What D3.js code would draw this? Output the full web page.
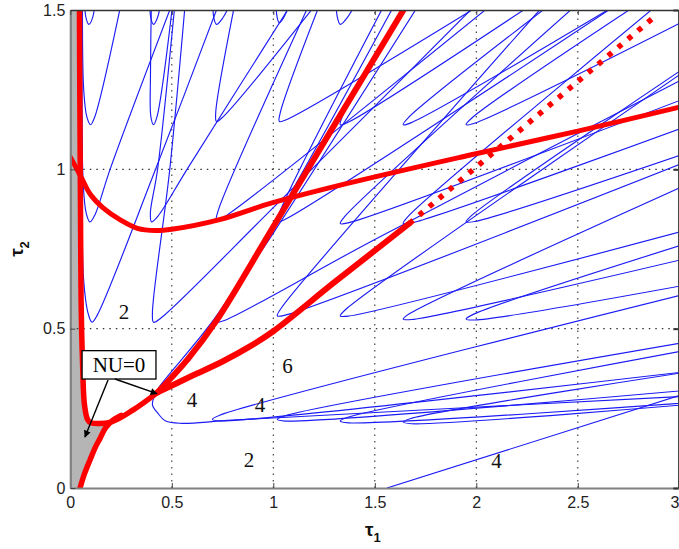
<!DOCTYPE html>
<html><head><meta charset="utf-8">
<script src="https://cdn.jsdelivr.net/npm/d3@7"></script>
<style>body{margin:0;background:#fff}svg{display:block}</style>
</head><body><svg id="c" width="679" height="549"></svg>
<script>
// ---------- data ----------
const xTicks=[0,0.5,1,1.5,2,2.5,3];
const xTickLabels=["0","0.5","1","1.5","2","2.5","3"];
const yTicks=[0,0.5,1,1.5];
const yTickLabels=["0","0.5","1","1.5"];

const grayRegion=[[0,0],[0,1.5],[0.033,1.5],[0.036,1.2],[0.04,0.9],[0.045,0.6],[0.052,0.4],[0.062,0.26],[0.08,0.215],[0.1,0.205],[0.19,0.205],[0.146,0.155],[0.125,0.13],[0.097,0.088],[0.07,0.045],[0.048,0]];
const redLeft=[[0.045,1.52],[0.047,1.2],[0.05,0.9],[0.053,0.6],[0.06,0.4],[0.07,0.26],[0.085,0.215],[0.1,0.205],[0.2,0.207],[0.31,0.245],[0.43,0.30]];
const redBottom=[[0.048,0],[0.07,0.045],[0.097,0.088],[0.125,0.13],[0.146,0.155],[0.175,0.19],[0.21,0.213],[0.25,0.228]];
const redUpper=[[-0.01,1.05],[0.05,0.98],[0.10,0.92],[0.16,0.88],[0.25,0.84],[0.33,0.815],[0.42,0.808],[0.5,0.812],[0.74,0.843],[0.985,0.893],[1.36,0.955],[1.97,1.045],[2.5,1.12],[3.02,1.198]];
const redSteep=[[0.43,0.30],[0.58,0.405],[0.72,0.525],[1.0,0.82],[1.33,1.17],[1.66,1.52]];
const redLower=[[0.43,0.30],[0.6,0.352],[0.75,0.397],[0.887,0.445],[1.0,0.492],[1.3,0.645],[1.67,0.83]];
const redDotted=[[1.67,0.83],[2.88,1.48]];

const loopTips=[
 [0.107,0.52],[0.097,0.835],[0.100,1.14],[0.092,1.455],
 [0.41,0.52],[0.40,0.835],[0.41,1.14],[0.41,1.455],
 [0.72,0.52],[0.72,0.84],[0.72,1.15],[0.72,1.455],
 [1.02,0.54],[1.02,0.835],[1.03,1.15],[1.03,1.46],
 [1.33,0.54],[1.33,0.83],[1.33,1.14],[1.33,1.455],
 [1.64,0.53],[1.64,0.83],[1.64,1.14],
 [1.95,0.53],[1.95,0.835],[1.95,1.14],
 [0.405,0.26],[0.70,0.215],[1.02,0.215],[1.33,0.21],[1.64,0.207]
];
const loopUpper=[
 [[0.065,0.66],[0.058,1.0],[0.055,1.55]],[[0.064,0.95],[0.058,1.55]],[[0.066,1.25],[0.06,1.55]],[[0.072,1.55]],
 [[0.49,1.0],[0.57,1.55]],[[0.43,1.0],[0.52,1.55]],[[0.395,1.3],[0.40,1.55]],[[0.395,1.55]],
 [[1.0,0.8],[1.75,1.55]],[[1.2,1.55]],[[0.82,1.55]],[[0.705,1.55]],
 [[2.34,1.52]],[[1.55,1.52]],[[1.23,1.52]],[[1.02,1.55]],
 [[3.1,1.34]],[[2.5,1.52]],[[1.65,1.52]],[[1.31,1.55]],
 [[3.1,0.97]],[[2.9,1.52]],[[2.37,1.52]],
 [[3.1,0.78]],[[3.1,1.35]],[[2.8,1.52]],
 [[0.43,0.31],[0.72,0.54],[1.0,0.83],[1.6,1.52]],[[3.1,0.62]],[[3.1,0.465]],[[3.1,0.44]],[[3.1,0.37]]
];
const loopLower=[
 [[0.42,1.0],[0.75,1.55]],[[0.196,1.0],[0.52,1.55]],[[0.26,1.55]],[[0.125,1.55]],
 [[1.0,0.88],[2.05,1.55]],[[0.575,1.0],[1.12,1.55]],[[0.51,1.55]],[[0.45,1.55]],
 [[1.5,0.78],[3.1,1.31]],[[2.14,1.55]],[[1.25,1.55]],[[0.81,1.55]],
 [[3.1,1.04]],[[2.7,1.52]],[[2.03,1.52]],[[1.09,1.55]],
 [[3.1,0.82]],[[3.1,1.24]],[[2.28,1.52]],[[1.43,1.55]],
 [[3.1,0.73]],[[3.1,1.15]],[[2.70,1.52]],
 [[3.1,0.645]],[[3.1,1.065]],[[3.1,1.49]],
 [[0.47,0.21],[0.55,0.203],[0.8,0.213],[3.1,0.29]],[[3.1,0.37]],[[3.1,0.31]],[[3.1,0.27]],[[3.1,0.265]]
];
const straightBlue=[[[1.56,0],[3.05,0.30]]];

const regionLabels=["2","4","6","4","2","4"];
const regionLabelPos=[[0.265,0.552],[0.60,0.276],[1.07,0.383],[0.935,0.261],[0.88,0.088],[2.10,0.085]];
const noteText="NU=0";
const noteBox=[[0.058,0.431],[0.422,0.342]];
const noteArrows=[[[0.186,0.339],[0.072,0.16]],[[0.22,0.342],[0.427,0.296]]];

// ---------- drawing ----------
const x=d3.scaleLinear().domain([0,3]).range([70.3,679.3]);
const y=d3.scaleLinear().domain([0,1.5]).range([488,10]);
const svg=d3.select("#c");
const defs=svg.append("defs");
defs.append("clipPath").attr("id","clip").append("rect")
  .attr("x",70).attr("y",10).attr("width",609.5).attr("height",478);
defs.append("marker").attr("id","ah").attr("viewBox","0 0 10 10").attr("refX",9).attr("refY",5)
  .attr("markerWidth",10).attr("markerHeight",7).attr("orient","auto").attr("markerUnits","userSpaceOnUse")
  .append("path").attr("d","M0,0L10,5L0,10Z").attr("fill","#000");

const line=d3.line().x(d=>x(d[0])).y(d=>y(d[1]));
const sline=d3.line().x(d=>x(d[0])).y(d=>y(d[1])).curve(d3.curveCatmullRom.alpha(0.5));
const pline=d3.line().curve(d3.curveCatmullRom.alpha(0.5));

const plot=svg.append("g").attr("clip-path","url(#clip)");

// gray region
plot.append("path").attr("d",sline(grayRegion)+"Z").attr("fill","#b5b5b5");

// grid
const grid=plot.append("g").attr("stroke","#333").attr("stroke-width",1.1).attr("stroke-dasharray","1.5,5");
xTicks.filter(v=>v>0&&v<3).forEach(v=>grid.append("line").attr("x1",x(v)).attr("x2",x(v)).attr("y1",y(0)).attr("y2",y(1.5)));
yTicks.filter(v=>v>0&&v<1.5).forEach(v=>grid.append("line").attr("x1",x(0)).attr("x2",x(3)).attr("y1",y(v)).attr("y2",y(v)));

// blue loops
function loopPath(tip,up,low){
  const P=[x(tip[0]),y(tip[1])];
  const U=up.map(p=>[x(p[0]),y(p[1])]);
  const L=low.map(p=>[x(p[0]),y(p[1])]);
  const unit=a=>{const dx=a[0]-P[0],dy=a[1]-P[1],n=Math.hypot(dx,dy);return [dx/n,dy/n];};
  const u=unit(U[0]),l=unit(L[0]);
  let b=[u[0]+l[0],u[1]+l[1]];const bn=Math.hypot(b[0],b[1]);b=[b[0]/bn,b[1]/bn];
  const n=[-b[1],b[0]];
  const s=Math.sign((u[0]-l[0])*n[0]+(u[1]-l[1])*n[1])||1;
  const r=8,w=2.2;
  const pu=[P[0]+u[0]*r+n[0]*s*w,P[1]+u[1]*r+n[1]*s*w];
  const pl=[P[0]+l[0]*r-n[0]*s*w,P[1]+l[1]*r-n[1]*s*w];
  return pline([...U.slice().reverse(),pu,P,pl,...L]);
}
const blue=plot.append("g").attr("fill","none").attr("stroke","#1c1cf5").attr("stroke-width",1.15);
loopTips.forEach((t,i)=>blue.append("path").attr("d",loopPath(t,loopUpper[i],loopLower[i])));
straightBlue.forEach(s=>blue.append("path").attr("d",line(s)));

// red curves
const red=plot.append("g").attr("fill","none").attr("stroke","#ff0000").attr("stroke-linecap","round").attr("stroke-linejoin","round");
red.append("path").attr("d",sline(redLeft)).attr("stroke-width",5.5);
red.append("path").attr("d",sline(redBottom)).attr("stroke-width",5.5);
red.append("path").attr("d",sline(redUpper)).attr("stroke-width",5);
red.append("path").attr("d",sline(redSteep)).attr("stroke-width",6);
red.append("path").attr("d",sline(redLower)).attr("stroke-width",6);
red.append("path").attr("d",line(redDotted)).attr("stroke-width",5.5).attr("stroke-linecap","butt").attr("stroke-dasharray","5,8");

// axes
const fnt="Arial, 'Liberation Sans', sans-serif";
const ax=svg.append("g").attr("transform",`translate(0,${y(0)})`)
  .call(d3.axisBottom(x).tickValues(xTicks).tickFormat((d,i)=>xTickLabels[i]).tickSizeInner(-5).tickSizeOuter(0).tickPadding(9));
const ay=svg.append("g").attr("transform",`translate(${x(0)},0)`)
  .call(d3.axisLeft(y).tickValues(yTicks).tickFormat((d,i)=>yTickLabels[i]).tickSizeInner(-5).tickSizeOuter(0).tickPadding(5));
[ax,ay].forEach(a=>{a.selectAll("text").attr("font-family",fnt).attr("font-size",16).attr("fill","#222");
  a.selectAll(".tick line").attr("stroke","#444");
  a.select(".domain").attr("stroke","#808080").attr("stroke-width",2.2);});
ax.selectAll(".tick text").filter((d,i)=>i===xTicks.length-1).attr("text-anchor","end").attr("dx","-0.5");
const at=svg.append("g").attr("transform",`translate(0,${y(1.5)})`)
  .call(d3.axisTop(x).tickValues(xTicks).tickFormat("").tickSizeInner(-5).tickSizeOuter(0));
at.select(".domain").attr("stroke","#333").attr("stroke-width",1.4);
at.selectAll(".tick line").attr("stroke","#444");
const ar=svg.append("g").attr("transform",`translate(${x(3)-1},0)`)
  .call(d3.axisRight(y).tickValues(yTicks).tickFormat("").tickSizeInner(-5).tickSizeOuter(0));
ar.select(".domain").attr("stroke","#333").attr("stroke-width",1.4);
ar.selectAll(".tick line").attr("stroke","#333").attr("stroke-width",2);

// axis labels
const xl=svg.append("text").attr("x",x(1.5)-2).attr("y",536).attr("text-anchor","middle")
  .attr("font-family",fnt).attr("font-weight","bold").attr("font-size",19).attr("fill","#111");
xl.append("tspan").text("τ");
xl.append("tspan").attr("font-size",13).attr("dy",6).text("1");
const yl=svg.append("text").attr("transform",`translate(23,${y(0.75)}) rotate(-90)`).attr("text-anchor","middle")
  .attr("font-family",fnt).attr("font-weight","bold").attr("font-size",19).attr("fill","#111");
yl.append("tspan").text("τ");
yl.append("tspan").attr("font-size",13).attr("dy",6).text("2");

// region labels
const serif="'Liberation Serif','DejaVu Serif',serif";
svg.append("g").selectAll("text").data(regionLabels).join("text")
  .attr("x",(d,i)=>x(regionLabelPos[i][0])).attr("y",(d,i)=>y(regionLabelPos[i][1]))
  .attr("dy","0.35em").attr("text-anchor","middle").attr("font-family",serif).attr("font-size",21).attr("fill","#111")
  .text(d=>d);

// NU=0 annotation
const nb=svg.append("g");
nb.append("rect").attr("x",x(noteBox[0][0])).attr("y",y(noteBox[0][1]))
  .attr("width",x(noteBox[1][0])-x(noteBox[0][0])).attr("height",y(noteBox[1][1])-y(noteBox[0][1]))
  .attr("fill","#fff").attr("stroke","#000").attr("stroke-width",1.3);
nb.append("text").attr("x",(x(noteBox[0][0])+x(noteBox[1][0]))/2).attr("y",(y(noteBox[0][1])+y(noteBox[1][1]))/2)
  .attr("dy","0.36em").attr("text-anchor","middle").attr("font-family",serif).attr("font-size",21).attr("fill","#000").text(noteText);
noteArrows.forEach(a=>nb.append("path").attr("d",line(a)).attr("stroke","#000").attr("stroke-width",1.4).attr("marker-end","url(#ah)"));
</script></body></html>
